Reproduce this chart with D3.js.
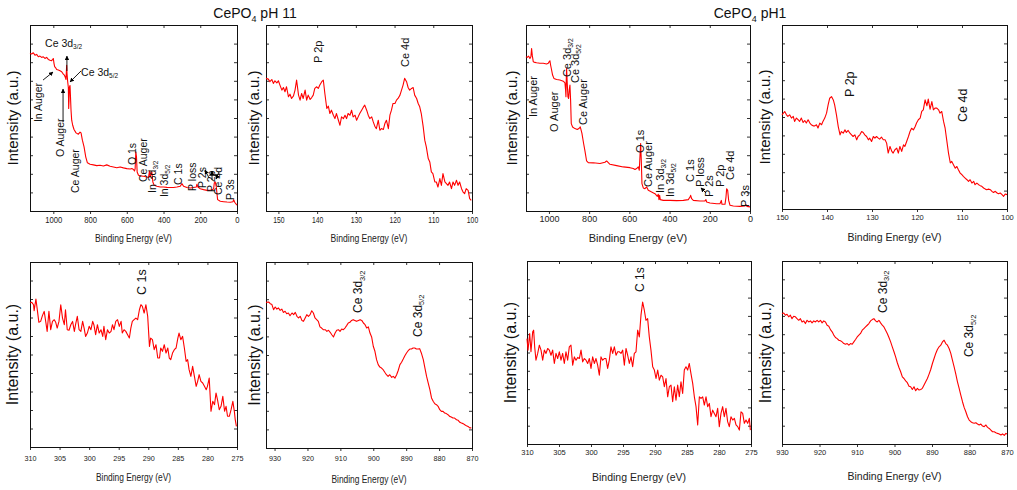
<!DOCTYPE html>
<html>
<head>
<meta charset="utf-8">
<script src="https://cdn.jsdelivr.net/npm/d3@7"></script>
<style>
  body { margin: 0; background: #fff; }
  svg { display: block; font-family: "Liberation Sans", Arial, sans-serif; }
</style>
</head>
<body>
<svg id="chart" width="1017" height="490"></svg>
<script>
// ---- data: [binding energy (eV), intensity (a.u., 0-100)] ----
const pH11Survey = [[1127.3,84.7],[1118.2,84.4],[1109.1,85.1],[1100,83.8],[1090.9,84.2],[1081.8,82.9],[1072.7,83.3],[1063.6,82.6],[1054.5,82.9],[1045.5,82.0],[1036.4,82.6],[1027.3,81.5],[1018.2,81.1],[1009.1,80.8],[1003.6,81.5],[1000,82.0],[996.4,79.4],[992.7,77.6],[987.3,77.0],[981.8,76.1],[972.7,75.8],[963.6,75.4],[954.5,74.9],[945.5,73.6],[940,73.1],[934.5,71.8],[930.9,70.7],[929.1,74.9],[927.3,78.3],[925.5,74.0],[921.8,69.5],[918.2,66.4],[916.4,55.1],[914.5,59.6],[912.7,66.4],[909.1,67.5],[907.3,63.2],[903.6,54.2],[900,48.8],[894.5,46.1],[887.3,43.8],[876.4,42.0],[863.6,41.3],[854.5,42.4],[849.1,42.0],[841.8,38.1],[832.7,34.5],[823.6,29.1],[814.5,25.9],[800,25.1],[781.8,24.8],[763.6,24.4],[745.5,24.6],[727.3,24.2],[709.1,24.8],[690.9,24.1],[672.7,23.7],[654.5,23.3],[636.4,23.7],[618.2,23.2],[600,22.8],[581.8,22.6],[572.7,22.8],[563.6,22.3],[558.2,21.5],[554.5,22.8],[550.9,31.8],[547.3,29.1],[543.6,21.0],[536.4,19.2],[527.3,18.9],[509.1,18.7],[490.9,18.3],[481.8,18.0],[476.4,21.5],[472.7,18.3],[467.3,20.1],[463.6,21.0],[458.2,15.6],[450.9,13.8],[436.4,13.3],[418.2,12.9],[400,12.9],[381.8,12.7],[363.6,12.6],[345.5,12.6],[327.3,12.9],[309.1,13.3],[300,14.7],[290.9,13.3],[272.7,12.6],[254.5,12.4],[236.4,12.6],[221.8,12.9],[218.2,14.4],[212.7,12.9],[200,12.0],[181.8,11.5],[163.6,11.1],[145.5,11.1],[134.5,11.5],[127.3,11.8],[123.6,15.1],[118.2,15.6],[112.7,12.9],[105.5,6.1],[90.9,5.2],[72.7,5.0],[54.5,4.8],[36.4,4.7],[21.8,5.0],[18.2,6.1],[12.7,4.7],[3.6,3.6],[0,3.1]];

const pH11P2pCe4d = [[153.2,71.3],[152.6,70.9],[152.2,69.5],[151.7,70.7],[151.3,68.6],[150.9,70.0],[150.4,68.9],[150.0,70.0],[149.6,67.7],[149.1,65.0],[148.7,66.4],[148.3,64.1],[147.9,66.8],[147.4,61.4],[147.0,62.8],[146.6,60.5],[146.1,61.9],[145.7,65.0],[145.3,70.4],[144.8,62.3],[144.4,59.6],[144.0,63.2],[143.6,60.5],[143.1,65.0],[142.7,59.6],[142.3,62.3],[141.8,60.0],[141.4,61.0],[141.0,62.3],[140.6,65.9],[140.1,66.8],[139.7,65.9],[139.3,67.7],[138.8,69.5],[138.4,70.4],[138.0,63.2],[137.5,55.1],[137.1,56.4],[136.7,52.4],[136.3,54.2],[135.8,51.5],[135.4,49.7],[135.0,52.4],[134.5,48.8],[134.1,46.1],[133.7,50.6],[133.2,49.7],[132.8,51.5],[132.4,49.7],[132.0,52.4],[131.5,51.5],[131.1,54.2],[130.7,50.6],[130.2,51.5],[129.8,48.8],[129.4,50.6],[129.0,52.4],[128.5,54.2],[128.1,55.7],[127.7,56.9],[127.2,54.2],[126.8,51.5],[126.4,49.7],[125.9,50.6],[125.5,47.9],[125.1,45.6],[124.7,44.3],[124.2,48.8],[123.8,43.4],[123.4,44.3],[122.9,43.8],[122.5,47.0],[122.1,48.8],[121.6,44.3],[121.2,51.5],[120.8,54.2],[120.4,57.8],[119.9,57.8],[119.5,59.6],[119.1,60.5],[118.6,62.3],[118.2,65.0],[117.8,67.7],[117.4,71.3],[116.9,69.5],[116.5,66.4],[116.1,65.0],[115.6,65.9],[115.2,66.4],[114.8,62.3],[114.3,60.5],[113.9,57.8],[113.5,56.0],[113.1,52.4],[112.6,45.2],[112.2,38.1],[111.8,34.5],[111.3,28.2],[110.9,26.4],[110.5,21.0],[110.1,20.1],[109.6,15.6],[109.2,15.6],[108.8,12.9],[108.3,17.4],[107.9,13.8],[107.5,20.1],[107.0,15.6],[106.6,14.7],[106.2,13.8],[105.8,15.6],[105.3,12.0],[104.9,15.6],[104.5,13.8],[104.0,16.5],[103.6,13.8],[103.2,15.6],[102.7,12.0],[102.3,10.2],[101.9,9.3],[101.5,12.0],[101.0,11.1],[100.6,6.6],[100.2,5.7]];

const pH11C1s = [[310.0,77.8],[309.7,78.2],[309.4,76.9],[309.3,73.7],[309.0,80.0],[308.8,75.1],[308.5,67.4],[308.2,67.9],[307.9,71.0],[307.6,73.3],[307.3,67.0],[307.1,62.5],[306.8,73.3],[306.5,63.4],[306.2,67.9],[305.9,68.8],[305.65,67.4],[305.4,64.3],[305.1,67.9],[304.8,76.9],[304.5,69.7],[304.2,66.1],[304.0,74.2],[303.7,63.4],[303.4,63.1],[303.1,66.1],[302.8,67.9],[302.5,62.5],[302.3,66.1],[302.0,70.6],[301.7,63.4],[301.4,62.5],[301.1,67.9],[300.85,64.3],[300.6,59.8],[300.3,61.6],[300.0,65.2],[299.7,63.4],[299.4,67.9],[299.2,66.1],[298.9,60.7],[298.6,66.1],[298.3,61.6],[298.0,63.4],[297.7,59.8],[297.5,65.2],[297.2,58.0],[296.9,63.4],[296.6,61.6],[296.3,62.5],[296.05,66.1],[295.8,63.4],[295.5,67.9],[295.2,68.8],[294.9,65.2],[294.6,67.9],[294.4,61.6],[294.1,63.4],[293.8,62.5],[293.5,60.7],[293.2,58.9],[292.95,64.3],[292.7,67.9],[292.4,68.8],[292.1,69.7],[291.8,68.8],[291.5,74.2],[291.25,76.9],[291.0,76.0],[290.7,72.4],[290.4,76.9],[290.1,70.6],[289.8,54.4],[289.6,58.9],[289.3,58.0],[289.0,52.6],[288.7,55.3],[288.4,48.1],[288.1,48.1],[287.9,53.5],[287.6,51.7],[287.3,55.3],[287.0,50.8],[286.7,53.5],[286.45,48.1],[286.2,47.2],[285.9,50.8],[285.6,52.6],[285.3,53.5],[285.0,58.9],[284.8,61.6],[284.5,58.0],[284.2,59.8],[283.9,53.5],[283.6,46.3],[283.35,47.2],[283.1,41.8],[282.8,38.2],[282.5,43.6],[282.2,38.2],[281.9,32.8],[281.65,35.5],[281.4,39.1],[281.1,35.5],[280.8,34.6],[280.5,32.8],[280.2,31.0],[280.0,32.8],[279.7,37.3],[279.4,19.3],[279.1,24.7],[278.8,22.9],[278.55,29.2],[278.3,25.6],[278.0,20.2],[277.7,22.0],[277.4,27.4],[277.1,19.3],[276.85,22.0],[276.6,16.6],[276.3,16.6],[276.0,20.2],[275.7,24.7],[275.45,19.3],[275.3,14.8],[275.1,11.2]];

const pH11Ce3d = [[932.6,78.3],[931.8,78.5],[931.3,77.6],[930.8,77.1],[930.3,74.4],[929.8,75.8],[929.3,74.7],[928.8,75.3],[928.3,74.0],[927.8,74.7],[927.3,72.9],[926.8,73.5],[926.3,72.2],[925.8,72.6],[925.3,71.1],[924.7,72.6],[924.2,71.7],[923.7,72.9],[923.2,70.8],[922.7,69.9],[922.2,70.8],[921.7,68.6],[921.2,68.1],[920.7,69.9],[920.2,71.7],[919.7,70.8],[919.2,71.7],[918.7,73.8],[918.2,72.6],[917.7,69.9],[917.2,69.0],[916.7,68.1],[916.2,65.1],[915.7,64.5],[915.2,63.6],[914.6,63.6],[914.1,62.7],[913.6,63.3],[913.1,62.2],[912.6,60.9],[912.1,59.7],[911.6,61.8],[911.1,63.3],[910.6,63.6],[910.1,62.7],[909.6,64.0],[909.1,63.6],[908.6,64.5],[908.1,65.8],[907.6,67.2],[907.1,67.6],[906.6,68.6],[906.1,69.0],[905.6,68.6],[905.1,68.1],[904.5,68.6],[904.0,69.0],[903.5,68.6],[903.0,67.2],[902.5,66.3],[902.0,64.5],[901.5,65.1],[901.0,61.8],[900.5,59.7],[900.0,54.7],[899.5,52.0],[899.0,47.5],[898.5,44.8],[898.0,43.5],[897.5,43.0],[897.0,42.1],[896.5,40.7],[896.0,39.4],[895.5,38.5],[895.0,39.4],[894.4,38.0],[893.9,38.5],[893.4,37.6],[892.9,39.4],[892.4,41.8],[891.9,44.8],[891.4,46.1],[890.9,47.8],[890.4,49.6],[889.9,51.1],[889.4,52.3],[888.9,53.2],[888.4,53.2],[887.9,53.8],[887.4,53.8],[886.9,53.2],[886.4,53.2],[885.9,53.4],[885.4,51.1],[884.8,47.5],[884.3,43.0],[883.8,38.5],[883.3,34.9],[882.8,31.4],[882.3,26.9],[881.8,25.1],[881.3,23.8],[880.8,23.3],[880.3,22.4],[879.8,20.6],[879.3,19.7],[878.8,19.7],[878.3,18.8],[877.8,18.5],[877.3,17.9],[876.8,17.0],[876.3,16.7],[875.8,16.1],[875.3,16.1],[874.7,15.2],[874.2,14.9],[873.7,13.8],[873.2,13.4],[872.7,13.1],[872.2,12.5],[871.7,12.0],[871.2,11.6],[870.7,10.8],[870.2,10.8]];

const pH1Survey = [[1114.4,82.9],[1107.8,82.6],[1101.2,83.3],[1094.5,82.0],[1089.6,82.9],[1086.2,87.4],[1082.9,83.8],[1077.9,80.3],[1069.7,79.9],[1061.4,79.7],[1044.8,79.4],[1028.2,79.4],[1011.6,79.0],[1003.3,79.4],[998.3,80.3],[995,80.8],[991.7,78.5],[986.7,75.8],[981.8,73.1],[975.1,71.3],[961.9,70.7],[945.3,70.4],[928.7,69.8],[920.4,68.9],[917.1,65.0],[915.4,61.4],[913.8,70.4],[912.1,76.7],[908.8,68.6],[905.5,61.4],[902.2,60.5],[898.8,65.0],[895.5,67.7],[892.2,59.6],[888.9,47.0],[882.3,45.2],[870.6,44.3],[859.0,43.8],[849.1,44.5],[844.1,45.2],[835.8,41.7],[827.5,36.3],[820.9,32.3],[812.6,26.9],[804.3,26.0],[779.4,25.9],[746.3,25.5],[721.4,26.2],[713.1,26.9],[696.5,25.1],[663.3,24.4],[630.2,23.7],[597,23.3],[580.4,22.8],[572.1,22.3],[563.8,22.8],[555.6,23.7],[550.6,21.9],[547.3,29.1],[543.9,36.3],[540.6,27.3],[537.3,14.7],[530.7,12.4],[522.4,12.0],[514.1,12.9],[505.8,11.1],[489.2,10.2],[472.6,9.3],[461,7.9],[456.1,9.0],[452.7,6.1],[449.4,8.4],[446.1,6.1],[431.2,5.7],[398,5.7],[364.8,5.6],[331.7,5.7],[306.8,6.1],[298.5,7.5],[295.2,8.4],[290.2,6.6],[281.9,5.7],[248.8,5.4],[223.9,5.4],[218.9,6.1],[215.6,4.8],[199,4.3],[165.8,3.9],[149.3,3.9],[142.6,5.7],[139.3,3.6],[124.4,3.6],[119.4,7.5],[116.1,12.0],[111.1,11.1],[106.1,5.7],[99.5,3.1],[82.9,2.7],[49.8,2.5],[24.9,2.7],[19.9,3.4],[14.9,2.5],[0,2.2]];

const pH1P2pCe4d = [[150.0,51.2],[149.4,53.0],[149.0,51.2],[148.7,50.3],[148.3,51.2],[147.9,49.4],[147.5,50.3],[147.2,47.6],[146.8,49.4],[146.4,48.5],[146.1,47.6],[145.7,49.4],[145.3,47.0],[144.95,48.1],[144.6,46.7],[144.2,48.5],[143.8,46.7],[143.5,45.8],[143.1,45.2],[142.7,45.2],[142.35,45.8],[142.0,44.0],[141.6,46.7],[141.2,45.8],[140.9,47.6],[140.5,49.4],[140.1,52.1],[139.75,56.6],[139.4,60.2],[139.0,61.1],[138.6,59.3],[138.3,56.6],[137.9,51.2],[137.5,44.8],[137.1,40.3],[136.8,42.1],[136.4,41.2],[136.0,43.0],[135.7,41.6],[135.3,42.7],[134.9,41.2],[134.55,40.3],[134.2,39.4],[133.8,40.3],[133.4,37.6],[133.1,39.4],[132.7,40.3],[132.3,42.1],[131.95,41.6],[131.6,40.3],[131.2,39.4],[130.8,37.6],[130.5,38.5],[130.1,36.7],[129.7,39.4],[129.35,38.5],[129.0,39.4],[128.6,38.5],[128.3,38.0],[127.9,39.1],[127.5,37.6],[127.1,37.6],[126.75,35.8],[126.4,30.4],[126.0,34.0],[125.6,31.3],[125.3,30.4],[124.9,32.2],[124.5,33.1],[124.15,30.4],[123.8,34.0],[123.4,31.3],[123.0,34.9],[122.7,34.0],[122.3,36.7],[121.9,39.4],[121.55,42.1],[121.2,43.9],[120.8,43.0],[120.4,44.8],[120.1,46.7],[119.7,48.5],[119.3,49.4],[118.95,53.0],[118.6,53.9],[118.2,59.3],[117.8,56.1],[117.5,59.7],[117.1,54.2],[116.7,58.4],[116.35,53.9],[116.0,54.8],[115.6,54.8],[115.2,53.9],[114.9,52.1],[114.5,53.0],[114.1,47.6],[113.75,43.9],[113.4,37.6],[113.0,30.4],[112.6,25.0],[112.3,25.9],[111.9,24.1],[111.5,22.2],[111.15,23.1],[110.8,21.3],[110.4,19.5],[110.0,18.6],[109.7,17.7],[109.3,16.8],[108.9,15.9],[108.55,15.0],[108.2,15.9],[107.8,14.1],[107.4,15.0],[107.1,13.2],[106.7,14.1],[106.3,13.2],[105.95,12.7],[105.6,12.3],[105.2,11.4],[104.8,10.8],[104.5,10.5],[104.1,10.8],[103.7,10.5],[103.35,9.6],[103.0,9.0],[102.6,9.6],[102.2,8.7],[101.9,8.3],[101.5,8.7],[101.1,7.8],[100.75,6.9],[100.4,8.1],[100.0,7.8]];

const pH1C1s = [[310.0,57.6],[309.84,51.3],[309.58,60.4],[309.38,50.4],[309.11,61.3],[308.96,62.2],[308.8,53.1],[308.6,45.8],[308.33,49.5],[308.07,54.0],[307.81,51.3],[307.55,45.8],[307.29,51.3],[307.03,49.5],[306.77,52.2],[306.51,51.3],[306.25,48.5],[305.99,51.3],[305.73,44.0],[305.47,49.5],[305.21,46.7],[304.95,50.4],[304.69,45.8],[304.43,49.5],[304.17,44.0],[303.91,50.4],[303.65,45.8],[303.39,53.1],[303.13,54.0],[302.86,43.1],[302.6,47.6],[302.34,45.8],[302.08,47.3],[301.82,46.7],[301.56,51.3],[301.3,44.9],[301.04,46.7],[300.78,45.8],[300.52,44.0],[300.26,46.7],[300.0,41.3],[299.74,47.6],[299.48,44.0],[299.22,46.7],[298.96,43.1],[298.7,37.6],[298.44,47.6],[298.18,45.8],[297.92,46.7],[297.66,46.7],[297.4,41.3],[297.14,45.8],[296.88,53.1],[296.61,49.5],[296.35,53.1],[296.09,48.5],[295.83,50.4],[295.57,50.4],[295.31,49.5],[295.05,51.3],[294.79,43.1],[294.53,52.2],[294.27,48.5],[294.01,44.0],[293.75,47.6],[293.49,42.2],[293.23,49.5],[292.97,50.4],[292.71,62.2],[292.45,58.5],[292.19,70.4],[291.93,77.6],[291.67,73.1],[291.41,67.6],[291.15,68.5],[290.89,58.5],[290.63,51.3],[290.36,42.2],[290.1,40.4],[289.84,35.8],[289.58,40.4],[289.32,34.9],[289.06,37.6],[288.8,36.7],[288.54,31.3],[288.28,35.8],[288.02,25.8],[287.76,31.3],[287.5,32.2],[287.24,23.1],[286.98,31.3],[286.72,24.0],[286.46,32.2],[286.2,25.8],[285.94,34.0],[285.68,27.6],[285.42,40.4],[285.16,42.2],[284.9,40.4],[284.64,44.0],[284.38,38.5],[284.11,33.1],[283.85,25.8],[283.59,20.4],[283.33,10.4],[283.07,25.8],[282.81,24.9],[282.55,25.8],[282.29,21.3],[282.03,25.8],[281.77,20.4],[281.51,22.2],[281.25,14.9],[280.99,18.5],[280.73,16.7],[280.47,14.9],[280.21,19.5],[279.95,9.5],[279.69,16.7],[279.43,20.4],[279.17,14.9],[278.91,19.5],[278.65,12.2],[278.39,9.5],[278.13,14.9],[277.86,13.1],[277.6,14.0],[277.34,10.4],[277.08,9.5],[276.82,7.6],[276.56,17.6],[276.3,16.7],[276.04,11.3],[275.78,13.1],[275.52,11.3],[275.26,14.0],[275.1,7.6]];

const pH1Ce3d = [[930.0,71.3],[929.55,71.6],[929.1,70.4],[928.66,70.9],[928.22,69.5],[927.77,70.4],[927.33,68.5],[926.88,69.8],[926.43,69.5],[925.99,68.5],[925.54,67.6],[925.1,68.5],[924.65,66.7],[924.21,67.3],[923.76,65.8],[923.32,67.6],[922.87,66.7],[922.42,67.3],[921.98,66.2],[921.53,67.3],[921.09,66.7],[920.64,67.6],[920.2,66.7],[919.75,67.6],[919.3,66.2],[918.86,67.3],[918.41,66.7],[917.97,64.9],[917.52,64.4],[917.08,62.5],[916.63,61.3],[916.19,59.5],[915.74,58.2],[915.29,57.6],[914.85,56.7],[914.4,56.4],[913.96,55.8],[913.51,54.9],[913.07,54.5],[912.62,54.9],[912.17,54.0],[911.73,54.9],[911.28,54.5],[910.84,55.8],[910.39,57.1],[909.95,58.5],[909.5,59.5],[909.06,60.4],[908.61,62.2],[908.16,63.1],[907.72,64.0],[907.27,64.9],[906.83,65.8],[906.38,67.3],[905.94,68.0],[905.49,68.5],[905.04,67.3],[904.6,66.7],[904.15,67.6],[903.71,66.2],[903.26,64.9],[902.82,64.0],[902.37,62.2],[901.93,60.4],[901.48,58.2],[901.03,55.8],[900.59,53.1],[900.14,50.4],[899.7,47.6],[899.25,44.4],[898.81,41.8],[898.36,39.5],[897.91,36.7],[897.47,35.8],[897.02,34.5],[896.58,33.5],[896.13,31.6],[895.69,31.3],[895.24,29.8],[894.8,31.3],[894.35,29.1],[893.9,30.4],[893.46,29.5],[893.01,29.8],[892.57,30.4],[892.12,32.2],[891.68,34.0],[891.23,35.8],[890.78,38.2],[890.34,40.7],[889.89,44.0],[889.45,46.7],[889.0,49.5],[888.56,51.6],[888.11,53.1],[887.66,54.0],[887.22,55.8],[886.77,56.7],[886.33,54.9],[885.88,54.0],[885.44,52.2],[884.99,49.5],[884.55,45.8],[884.1,42.2],[883.65,38.2],[883.21,34.0],[882.76,30.4],[882.32,26.7],[881.87,23.1],[881.43,20.0],[880.98,17.6],[880.53,14.9],[880.09,13.1],[879.64,12.2],[879.2,11.6],[878.75,11.3],[878.31,11.6],[877.86,10.9],[877.42,10.4],[876.97,10.9],[876.52,9.8],[876.08,9.5],[875.63,10.4],[875.19,9.1],[874.74,8.5],[874.3,7.6],[873.85,6.7],[873.4,6.7],[872.96,6.2],[872.51,5.8],[872.07,5.5],[871.62,4.9],[871.18,5.5],[870.73,4.7],[870.29,5.8],[870.0,5.5]];

// tick labels
const surveyTicks = [1000, 800, 600, 400, 200, 0];
const p2pTicks = [150, 140, 130, 120, 110, 100];
const c1sTicks = [310, 305, 300, 295, 290, 285, 280, 275];
const ce3dTicks = [930, 920, 910, 900, 890, 880, 870];
const intensityTicks = [10, 20, 30, 40, 50, 60, 70, 80, 90];

// peak labels: [text, subscript, BE, intensity] (vertical text, starting at that point)
const pH11SurveyLabels = [["In Auger","",1083,47.8],["O Auger","",964,29],["Ce Auger","",882,9.7],["O 1s","",572,24.7],["Ce Auger","",512,15.6],["In 3d","3/2",463,9.7],["In 3d","5/2",398,7.5],["C 1s","",321,14],["P loss","",245,10.8],["P 2s","",191,12.4],["P 2p","",142,10.2],["Ce 4d","",104,8.6],["P 3s","",38,5.9]];
const pH11SurveyFlatLabels = [["Ce 3d","3/2",1045,88.2],["Ce 3d","5/2",849,72.6]];
const pH11SurveyArrows = [[926,75.3,926,83.3],[849,75.3,909,69.4],[1056,70.4,1002,74.7],[947,47.8,947,65.6],[152,17.7,174,22],[136,16.7,136,21.5],[98,21,114,17.2]];
const pH11P2pLabels = [["P 2p","",139.8,79.6],["Ce 4d","",117.3,77.4]];
const pH11C1sLabels = [["C 1s","",291.1,82.2]];
const pH11Ce3dLabels = [["Ce 3d","3/2",904.6,72.6],["Ce 3d","5/2",886.4,59.7]];
const pH1SurveyLabels = [["In Auger","",1079,50.5],["O Auger","",975,42.5],["Ce 3d","3/2",910,72],["Ce 3d","5/2",870,68.8],["Ce Auger","",830,46.2],["O 1s","",547,31.2],["Ce Auger","",507,12.9],["In 3d","3/2",448,9.7],["In 3d","5/2",398,7.5],["C 1s","",298,15.6],["P loss","",249,12.9],["P 2s","",204,7.5],["P 2p","",149,12.9],["Ce 4d","",100,16.7],["P 3s","",25,2.2]];
const pH1SurveyArrows = [[219,9.7,244,12.4]];
const pH1P2pLabels = [["P 2p","",134.9,60.9],["Ce 4d","",109.8,47.3]];
const pH1C1sLabels = [["C 1s","",292.3,83.1]];
const pH1Ce3dLabels = [["Ce 3d","3/2",903.1,71.6],["Ce 3d","5/2",880.1,47.5]];

// ---- layout ----
const panels = [
  { data: pH11Survey, domain: [1127, 0], ticks: surveyTicks, box: [30, 25, 237, 211],
    labels: pH11SurveyLabels, flat: pH11SurveyFlatLabels, arrows: pH11SurveyArrows,
    tickFont: 8.5, tickK: 0.9, tickPad: 3, titleFont: 10, titleK: 0.86, titleY: 238, yTitleX: 13, yTitleFont: 15, labelFont: 10.5 },
  { data: pH11P2pCe4d, domain: [153.2, 100], ticks: p2pTicks, box: [266, 25, 472, 211],
    labels: pH11P2pLabels, tickFont: 8.5, tickK: 0.8, tickPad: 3, titleFont: 10, titleK: 0.86, titleY: 238, yTitleX: 254, yTitleFont: 15, labelFont: 11 },
  { data: pH1Survey, domain: [1114, 0], ticks: surveyTicks, box: [526, 25, 750, 211],
    labels: pH1SurveyLabels, arrows: pH1SurveyArrows, tickFont: 9, tickK: 1, tickPad: 2, titleFont: 11, titleK: 1, titleY: 238, yTitleX: 512, yTitleFont: 15, labelFont: 11 },
  { data: pH1P2pCe4d, domain: [150, 100], ticks: p2pTicks, box: [782, 25, 1007, 209],
    labels: pH1P2pLabels, tickFont: 7.5, tickK: 1, tickPad: 2.5, titleFont: 10.5, titleK: 1, titleY: 237, yTitleX: 765, yTitleFont: 15, labelFont: 12.5 },
  { data: pH11C1s, domain: [310, 275], ticks: c1sTicks, box: [30, 262, 237, 447],
    labels: pH11C1sLabels, tickFont: 8, tickK: 0.9, tickPad: 5, titleFont: 10, titleK: 0.84, titleY: 477, yTitleX: 12, yTitleFont: 16, labelFont: 12.5 },
  { data: pH11Ce3d, domain: [932.6, 870], ticks: ce3dTicks, box: [266, 262, 472, 448],
    labels: pH11Ce3dLabels, tickFont: 8, tickK: 0.9, tickPad: 4, titleFont: 10, titleK: 0.84, titleY: 479, yTitleX: 254, yTitleFont: 16, labelFont: 12 },
  { data: pH1C1s, domain: [310, 275], ticks: c1sTicks, box: [527, 261, 751, 444],
    labels: pH1C1sLabels, tickFont: 7.5, tickK: 1, tickPad: 3, titleFont: 10.5, titleK: 1, titleY: 477, yTitleX: 510, yTitleFont: 16, labelFont: 12 },
  { data: pH1Ce3d, domain: [930, 870], ticks: ce3dTicks, box: [782, 261, 1007, 444],
    labels: pH1Ce3dLabels, tickFont: 7.5, tickK: 1, tickPad: 3, titleFont: 10.5, titleK: 1, titleY: 476, yTitleX: 765, yTitleFont: 16, labelFont: 12 }
];

const svg = d3.select("#chart");

svg.append("defs").append("marker")
  .attr("id", "arrowhead")
  .attr("viewBox", "0 0 10 10")
  .attr("refX", 9).attr("refY", 5)
  .attr("markerWidth", 5).attr("markerHeight", 5)
  .attr("orient", "auto")
  .append("path").attr("d", "M0,0L10,5L0,10Z").attr("fill", "#000");

// squeeze text horizontally (the original uses a narrow face)
function condense(sel, k) {
  if (k === 1) return;
  sel.each(function() {
    const len = this.getComputedTextLength();
    d3.select(this).attr("textLength", len * k).attr("lengthAdjust", "spacingAndGlyphs");
  });
}

function addLabel(g, text, sub) {
  g.append("tspan").text(text);
  if (sub) g.append("tspan").attr("dy", "0.3em").attr("font-size", "0.62em").text(sub);
}

function drawPanel(p) {
  const [x0, y0, x1, y1] = p.box;
  const x = d3.scaleLinear().domain(p.domain).range([x0, x1]);
  const y = d3.scaleLinear().domain([0, 100]).range([y1, y0]);
  const g = svg.append("g");

  // axes: labelled outward bottom ticks, inward ticks on the other sides
  const bottom = g.append("g").attr("transform", `translate(0,${y1})`)
    .call(d3.axisBottom(x).tickValues(p.ticks).tickFormat(d3.format("d"))
      .tickSize(3).tickSizeOuter(0).tickPadding(p.tickPad));
  bottom.selectAll("text").attr("font-size", p.tickFont).attr("fill", "#222")
    .attr("font-family", "\"Liberation Sans\", Arial, sans-serif").call(condense, p.tickK);
  g.append("g").attr("transform", `translate(0,${y0})`)
    .call(d3.axisTop(x).tickValues(p.ticks).tickSize(-3).tickSizeOuter(0).tickFormat(""));
  g.append("g").attr("transform", `translate(${x0},0)`)
    .call(d3.axisLeft(y).tickValues(intensityTicks).tickSize(-3).tickSizeOuter(0).tickFormat(""));
  g.append("g").attr("transform", `translate(${x1},0)`)
    .call(d3.axisRight(y).tickValues(intensityTicks).tickSize(-3).tickSizeOuter(0).tickFormat(""));
  g.selectAll(".domain").remove();
  g.selectAll(".tick line").attr("stroke", "#333");

  g.append("rect")
    .attr("x", x0 + 0.5).attr("y", y0 + 0.5)
    .attr("width", x1 - x0).attr("height", y1 - y0)
    .attr("fill", "none").attr("stroke", "#111").attr("stroke-width", 1);

  // spectrum
  g.append("path")
    .datum(p.data)
    .attr("fill", "none")
    .attr("stroke", "#ff0000")
    .attr("stroke-width", 1.1)
    .attr("stroke-linejoin", "round")
    .attr("d", d3.line().x(d => x(d[0])).y(d => y(d[1])));

  // axis titles
  g.append("text")
    .attr("x", (x0 + x1) / 2).attr("y", p.titleY).attr("dy", "0.35em")
    .attr("text-anchor", "middle").attr("font-size", p.titleFont).attr("fill", "#222")
    .text("Binding Energy (eV)").call(condense, p.titleK);
  g.append("text")
    .attr("transform", `translate(${p.yTitleX},${(y0 + y1) / 2}) rotate(-90)`)
    .attr("dy", "0.35em").attr("text-anchor", "middle")
    .attr("font-size", p.yTitleFont).attr("fill", "#111")
    .text("Intensity (a.u.)");

  // peak labels
  (p.labels || []).forEach(([text, sub, be, v]) => {
    const t = g.append("text")
      .attr("transform", `translate(${x(be)},${y(v)}) rotate(-90)`)
      .attr("dy", "0.35em").attr("font-size", p.labelFont).attr("fill", "#111");
    addLabel(t, text, sub);
  });
  (p.flat || []).forEach(([text, sub, be, v]) => {
    const t = g.append("text")
      .attr("x", x(be)).attr("y", y(v))
      .attr("font-size", p.labelFont).attr("fill", "#111");
    addLabel(t, text, sub);
  });
  (p.arrows || []).forEach(([b1, v1, b2, v2]) => {
    g.append("line")
      .attr("x1", x(b1)).attr("y1", y(v1))
      .attr("x2", x(b2)).attr("y2", y(v2))
      .attr("stroke", "#000").attr("stroke-width", 0.9)
      .attr("marker-end", "url(#arrowhead)");
  });
}

panels.forEach(drawPanel);

// figure titles
function figureTitle(cx, rest) {
  const t = svg.append("text")
    .attr("x", cx).attr("y", 18)
    .attr("text-anchor", "middle").attr("font-size", 14).attr("fill", "#111");
  t.append("tspan").text("CePO");
  t.append("tspan").attr("dy", 4).attr("font-size", 9).text("4");
  t.append("tspan").attr("dy", -4).text(rest);
}
figureTitle(255, " pH 11");
figureTitle(750, " pH1");
</script>
</body>
</html>
